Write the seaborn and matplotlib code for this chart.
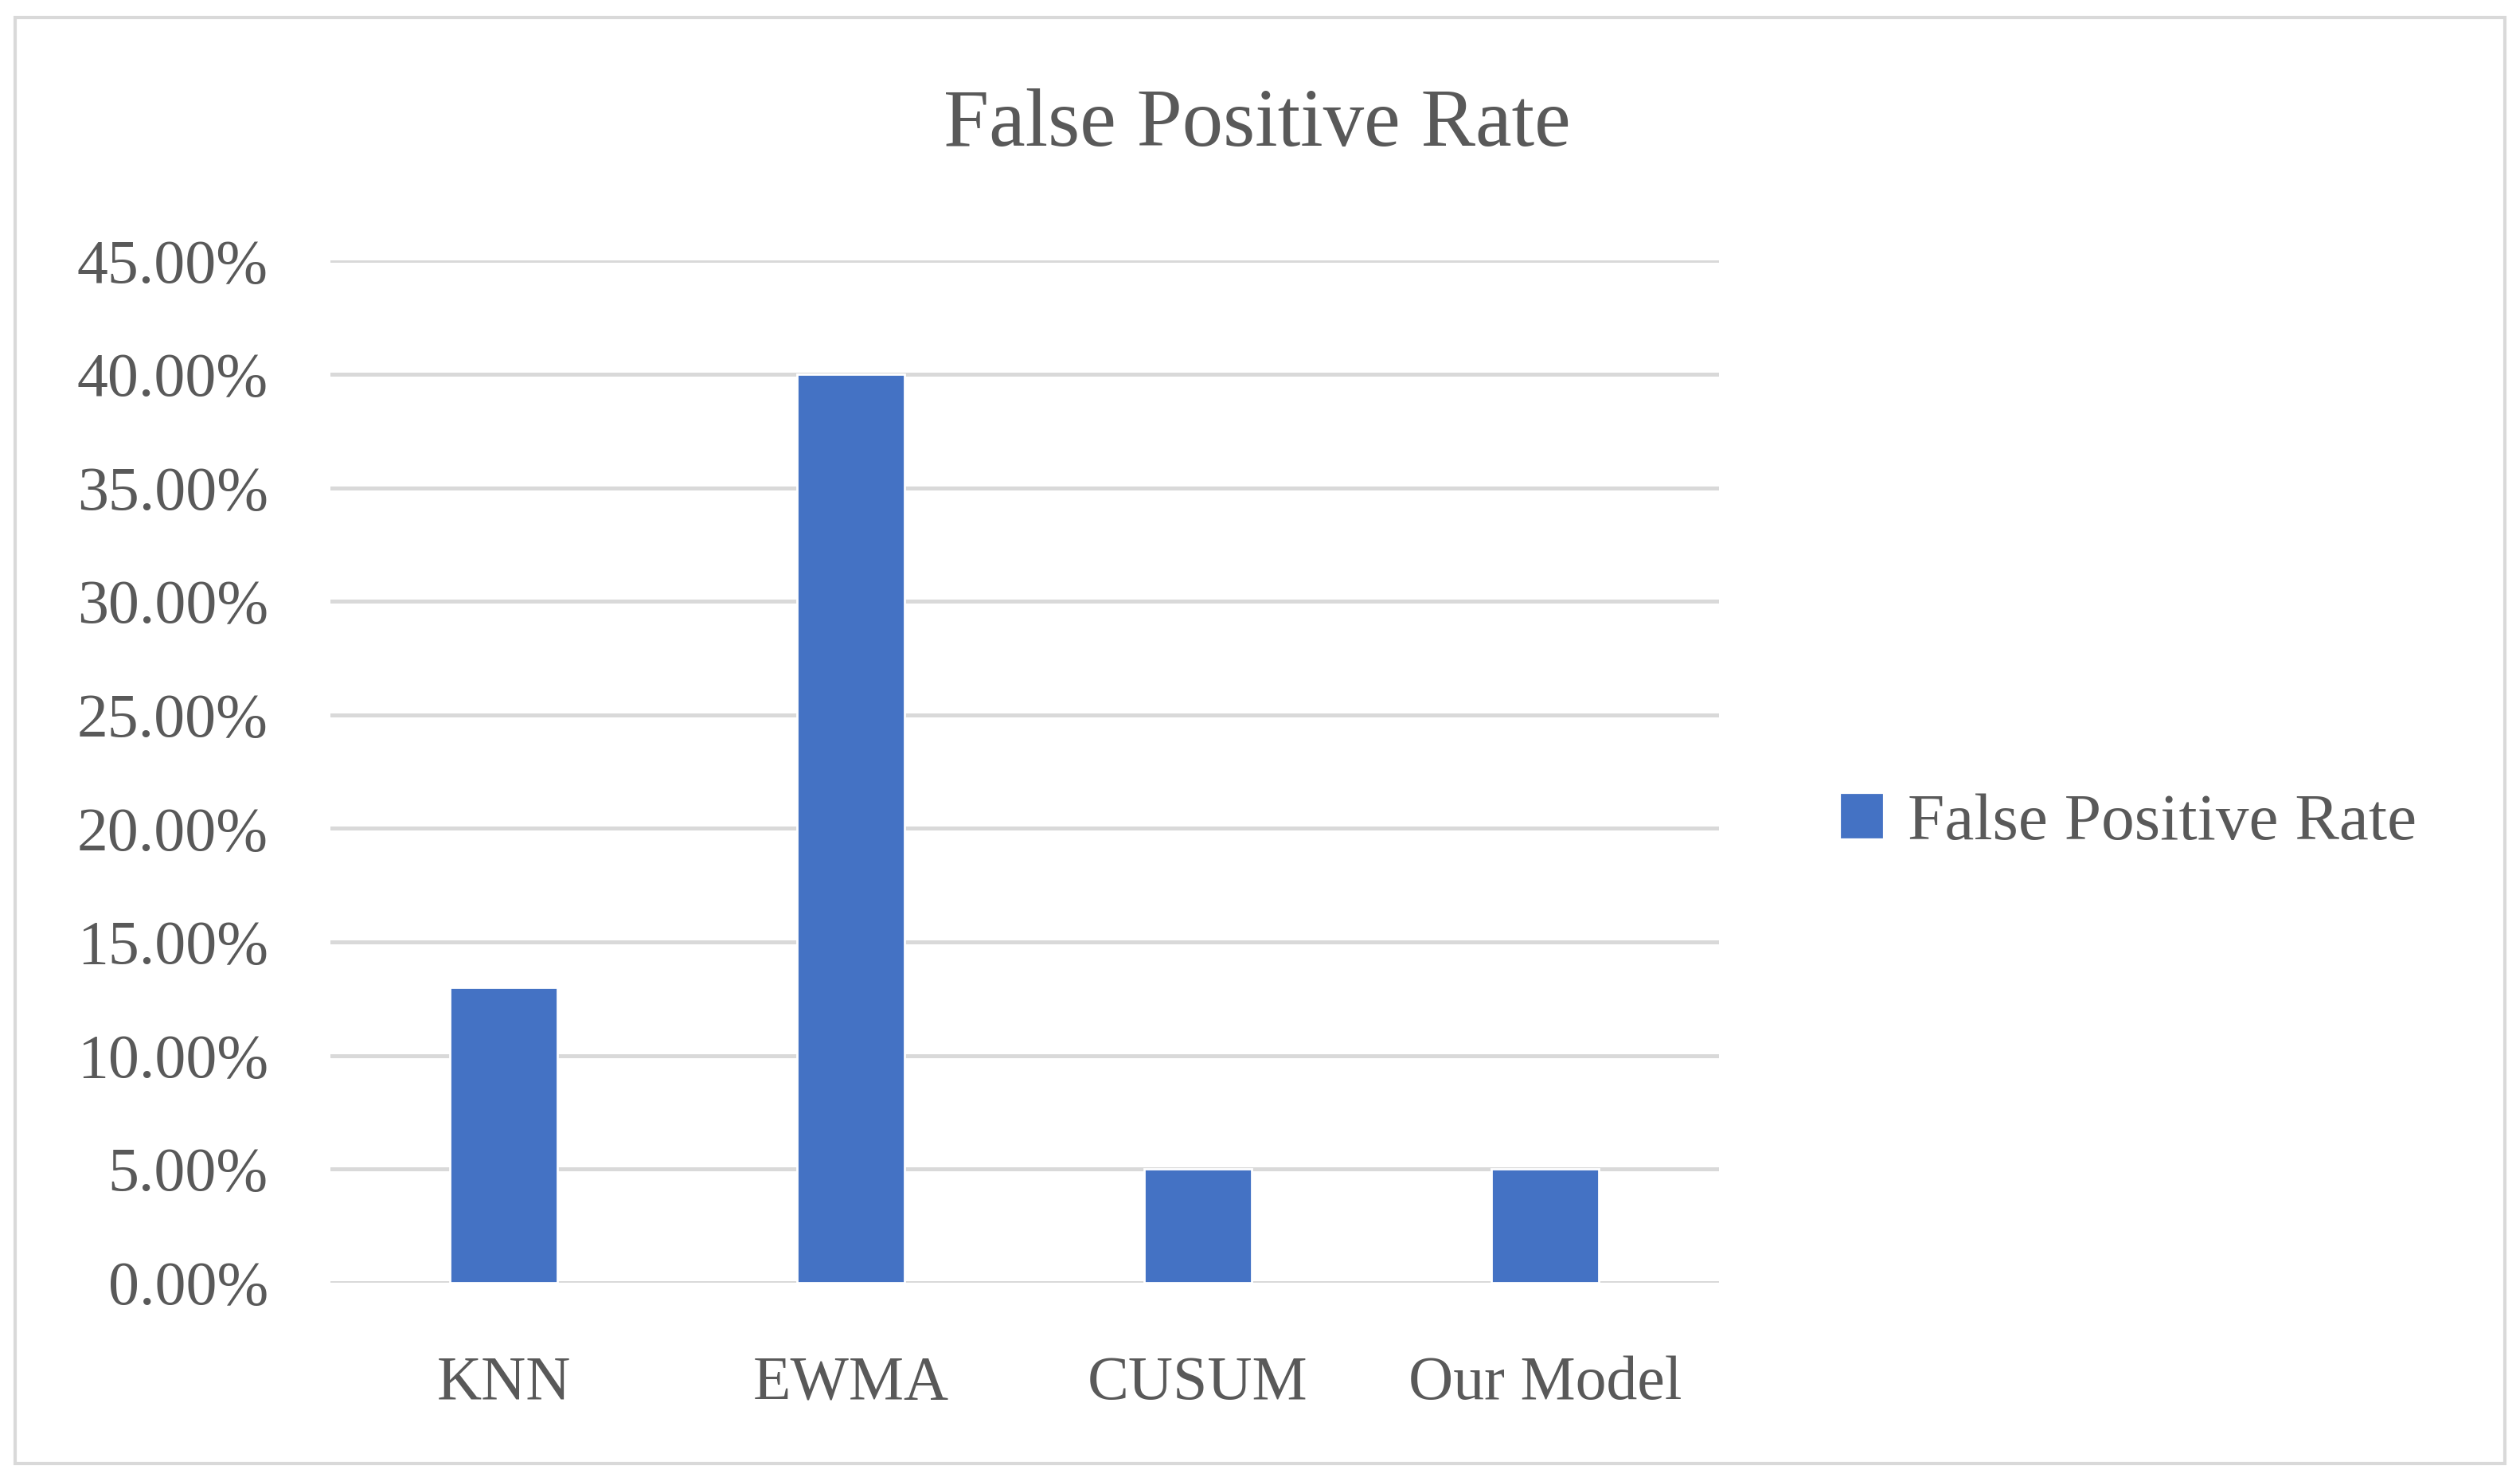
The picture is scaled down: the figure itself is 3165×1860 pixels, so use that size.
import matplotlib
matplotlib.use("Agg")
import matplotlib.pyplot as plt
import matplotlib.patches as mpatches
from matplotlib.ticker import FuncFormatter
import pandas as pd
import seaborn as sns

# chart data
models = ["KNN", "EWMA", "CUSUM", "Our Model"]
fpr = [0.13, 0.40, 0.05, 0.05]
yticks = [0.0, 0.05, 0.10, 0.15, 0.20, 0.25, 0.30, 0.35, 0.40, 0.45]
series_name = "False Positive Rate"

BAR_COLOR = "#4472C4"
TEXT_COLOR = "#595959"
GRID_COLOR = "#D9D9D9"

sns.set_theme(style="white")
plt.rcParams["font.family"] = ["Liberation Serif", "DejaVu Serif"]

df = pd.DataFrame({"model": models, "fpr": fpr})

fig = plt.figure(figsize=(15.825, 9.3), dpi=200)
ax = fig.add_axes([0.131, 0.134, 0.551, 0.690])

sns.barplot(data=df, x="model", y="fpr", color=BAR_COLOR, width=0.31,
            saturation=1, ax=ax, zorder=3)

ax.set_xlim(-0.5, len(models) - 0.5)
ax.set_ylim(0, 0.45)
ax.set_yticks(yticks)
ax.yaxis.set_major_formatter(FuncFormatter(lambda v, _: f"{v * 100:.2f}%"))
ax.grid(axis="y", color=GRID_COLOR, linewidth=1.8, zorder=0)
ax.set_axisbelow(True)
for s in ax.spines.values():
    s.set_visible(False)
ax.tick_params(axis="both", length=0, labelsize=28, colors=TEXT_COLOR)
ax.tick_params(axis="x", pad=33)
ax.tick_params(axis="y", pad=28)
ax.set_xlabel("")
ax.set_ylabel("")

fig.text(0.499, 0.915, series_name, ha="center", va="center",
         fontsize=37, color=TEXT_COLOR)

handle = mpatches.Patch(color=BAR_COLOR, label=series_name)
fig.legend(handles=[handle], loc="center left", bbox_to_anchor=(0.707, 0.444),
           frameon=False, fontsize=30, labelcolor=TEXT_COLOR,
           handlelength=0.6, handleheight=0.6, handletextpad=0.4)

# outer chart border
fig.patches.append(mpatches.Rectangle((0.006, 0.012), 0.988, 0.976,
                                      transform=fig.transFigure, fill=False,
                                      edgecolor=GRID_COLOR, linewidth=1.5))

fig.savefig("out.png", dpi=200, facecolor="white")
